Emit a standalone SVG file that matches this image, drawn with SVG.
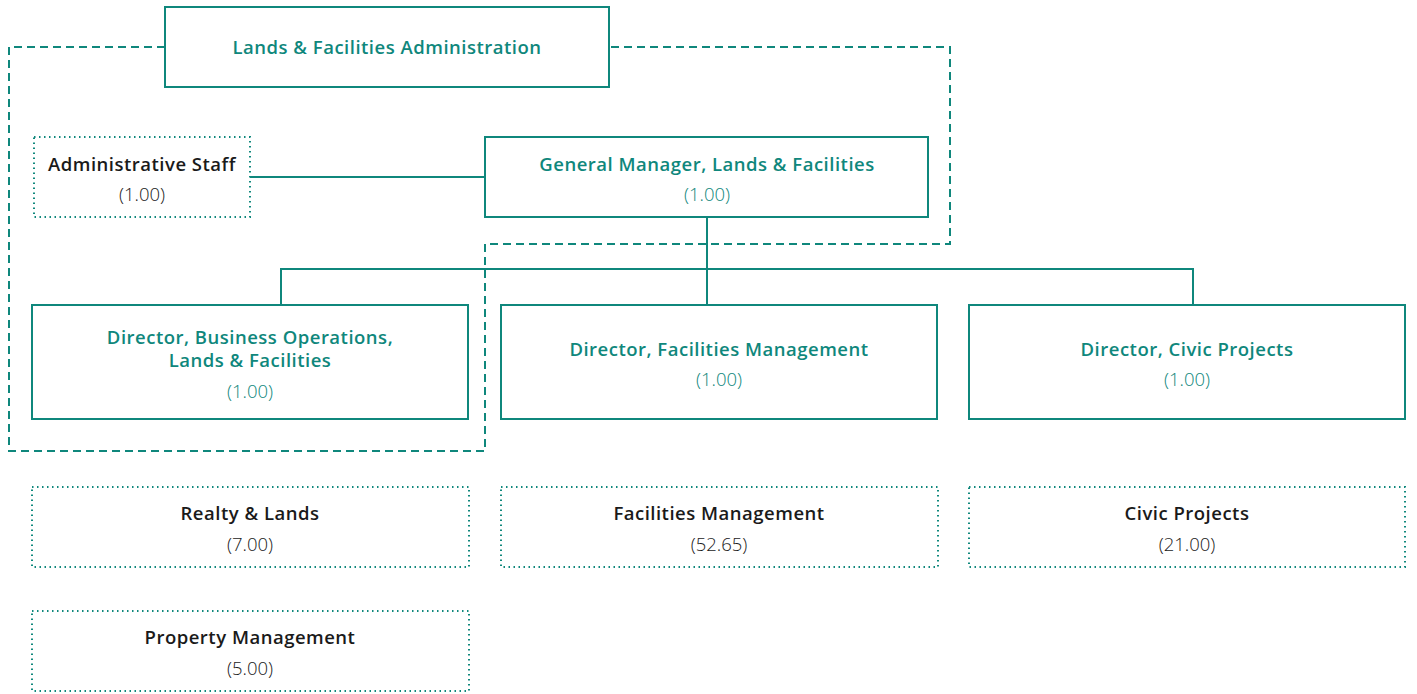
<svg xmlns="http://www.w3.org/2000/svg" width="1417" height="694" viewBox="0 0 1417 694">
<style>
.solid{fill:#fff;stroke:#0f877c;stroke-width:2}
.dot{fill:#fff;stroke:#0f877c;stroke-width:2;stroke-dasharray:1.5 3.5}
.dash{fill:none;stroke:#0f877c;stroke-width:2;stroke-dasharray:8 5}
.ln{fill:none;stroke:#0f877c;stroke-width:2}
.tt{font-family:"Open Sans","Liberation Sans",sans-serif;font-weight:600;font-size:18.5px;letter-spacing:0.5px;fill:#0f877c;text-anchor:middle}
.tn{font-family:"Open Sans","Liberation Sans",sans-serif;font-weight:300;font-size:18.5px;fill:#0f877c;text-anchor:middle}
.bt{font-family:"Open Sans","Liberation Sans",sans-serif;font-weight:600;font-size:18.5px;letter-spacing:0.5px;fill:#1a1a1a;text-anchor:middle}
.bn{font-family:"Open Sans","Liberation Sans",sans-serif;font-weight:300;font-size:18.5px;fill:#1a1a1a;text-anchor:middle}
</style>
<rect width="1417" height="694" fill="#fff"/>
<g id="connectors">
<polyline class="dash" points="165,47 9,47 9,451 485,451 485,244 950,244 950,47 609,47"/>
<line class="ln" x1="250" y1="177" x2="485" y2="177"/>
<line class="ln" x1="707" y1="217" x2="707" y2="305"/>
<polyline class="ln" points="281,305 281,269 1193,269 1193,305"/>
</g>
<g id="lands-facilities-admin">
<rect class="solid" x="165" y="7" width="444" height="80"/>
<text class="tt" x="387" y="54">Lands &amp; Facilities Administration</text>
</g>
<g id="admin-staff">
<rect class="dot" x="34" y="137" width="216" height="80"/>
<text class="bt" x="142" y="171">Administrative Staff</text>
<text class="bn" x="142" y="201">(1.00)</text>
</g>
<g id="general-manager">
<rect class="solid" x="485" y="137" width="443" height="80"/>
<text class="tt" x="707" y="171">General Manager, Lands &amp; Facilities</text>
<text class="tn" x="707" y="201">(1.00)</text>
</g>
<g id="dir-business-ops">
<rect class="solid" x="32" y="305" width="436" height="114"/>
<text class="tt" x="250" y="344">Director, Business Operations,</text>
<text class="tt" x="250" y="367">Lands &amp; Facilities</text>
<text class="tn" x="250" y="398">(1.00)</text>
</g>
<g id="dir-facilities">
<rect class="solid" x="501" y="305" width="436" height="114"/>
<text class="tt" x="719" y="356">Director, Facilities Management</text>
<text class="tn" x="719" y="386">(1.00)</text>
</g>
<g id="dir-civic">
<rect class="solid" x="969" y="305" width="436" height="114"/>
<text class="tt" x="1187" y="356">Director, Civic Projects</text>
<text class="tn" x="1187" y="386">(1.00)</text>
</g>
<g id="realty-lands">
<rect class="dot" x="32" y="487" width="437" height="80"/>
<text class="bt" x="250" y="520">Realty &amp; Lands</text>
<text class="bn" x="250" y="551">(7.00)</text>
</g>
<g id="facilities-mgmt">
<rect class="dot" x="501" y="487" width="437" height="80"/>
<text class="bt" x="719" y="520">Facilities Management</text>
<text class="bn" x="719" y="551">(52.65)</text>
</g>
<g id="civic-projects">
<rect class="dot" x="969" y="487" width="436" height="80"/>
<text class="bt" x="1187" y="520">Civic Projects</text>
<text class="bn" x="1187" y="551">(21.00)</text>
</g>
<g id="property-mgmt">
<rect class="dot" x="32" y="611" width="437" height="80"/>
<text class="bt" x="250" y="644">Property Management</text>
<text class="bn" x="250" y="675">(5.00)</text>
</g>
</svg>
